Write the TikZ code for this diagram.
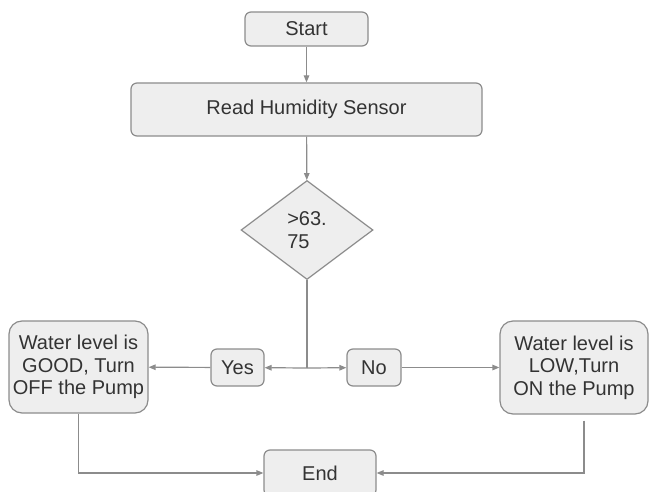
\documentclass[tikz,border=0pt]{standalone}
\usepackage{fontspec}
\setmainfont{Liberation Sans}
\usetikzlibrary{shapes.geometric,arrows.meta}
\definecolor{boxfill}{HTML}{EEEEEE}
\definecolor{boxline}{HTML}{8C8C8C}
\definecolor{txt}{HTML}{333333}
\begin{document}
\begin{tikzpicture}[x=1pt,y=1pt]
\tikzstyle{every node}+=[inner sep=0pt, text=txt, font=\fontsize{20}{22.5}\selectfont]
\tikzstyle{box}=[draw=boxline, fill=boxfill, line width=1.2pt, rounded corners=6pt]
\tikzstyle{bigbox}=[box, rounded corners=13pt, align=center]
\tikzstyle{dec}=[draw=boxline, fill=boxfill, line width=1.2pt, diamond, align=left]
\tikzstyle{link}=[draw=boxline, line width=1.2pt, -{Triangle[length=7pt,width=5.5pt]}]
\useasboundingbox (0,0) rectangle (650,-492);
\node [box, minimum width=123, minimum height=34] (start) at (306.5,-29) {Start};
\node [box, minimum width=351, minimum height=53] (read) at (306.5,-109.5) {Read Humidity Sensor};
\node [dec, minimum width=132, minimum height=99] (check) at (307,-230) {>63.\\75};
\coordinate (split) at (307,-368);
\node [box, minimum width=53, minimum height=37] (yes) at (237.5,-367.5) {Yes};
\node [box, minimum width=54, minimum height=37] (no) at (374,-367.5) {No};
\node [bigbox, minimum width=139, minimum height=92] (good) at (78.5,-367) {Water level is\\GOOD, Turn\\OFF the Pump};
\node [bigbox, minimum width=148, minimum height=93] (low) at (574,-367.5) {Water level is\\LOW,Turn\\ON the Pump};
\node [box, minimum width=112, minimum height=46] (stop) at (320,-473) {End};
\draw [link] (start) -- (read);
\draw [link] (read) -- (check);
\draw [draw=boxline, line width=1.2pt] (check.south) -- (split);
\draw [link] (split) -- (yes);
\draw [link] (split) -- (no);
\draw [link] (yes) -- (good);
\draw [link] (no) -- (low);
\draw [link] (good.south) |- (stop.west);
\coordinate (lowfoot) at ([xshift=10pt,yshift=-6pt]low.south);
\draw [link] (lowfoot) |- (stop.east);
\end{tikzpicture}
\end{document}
